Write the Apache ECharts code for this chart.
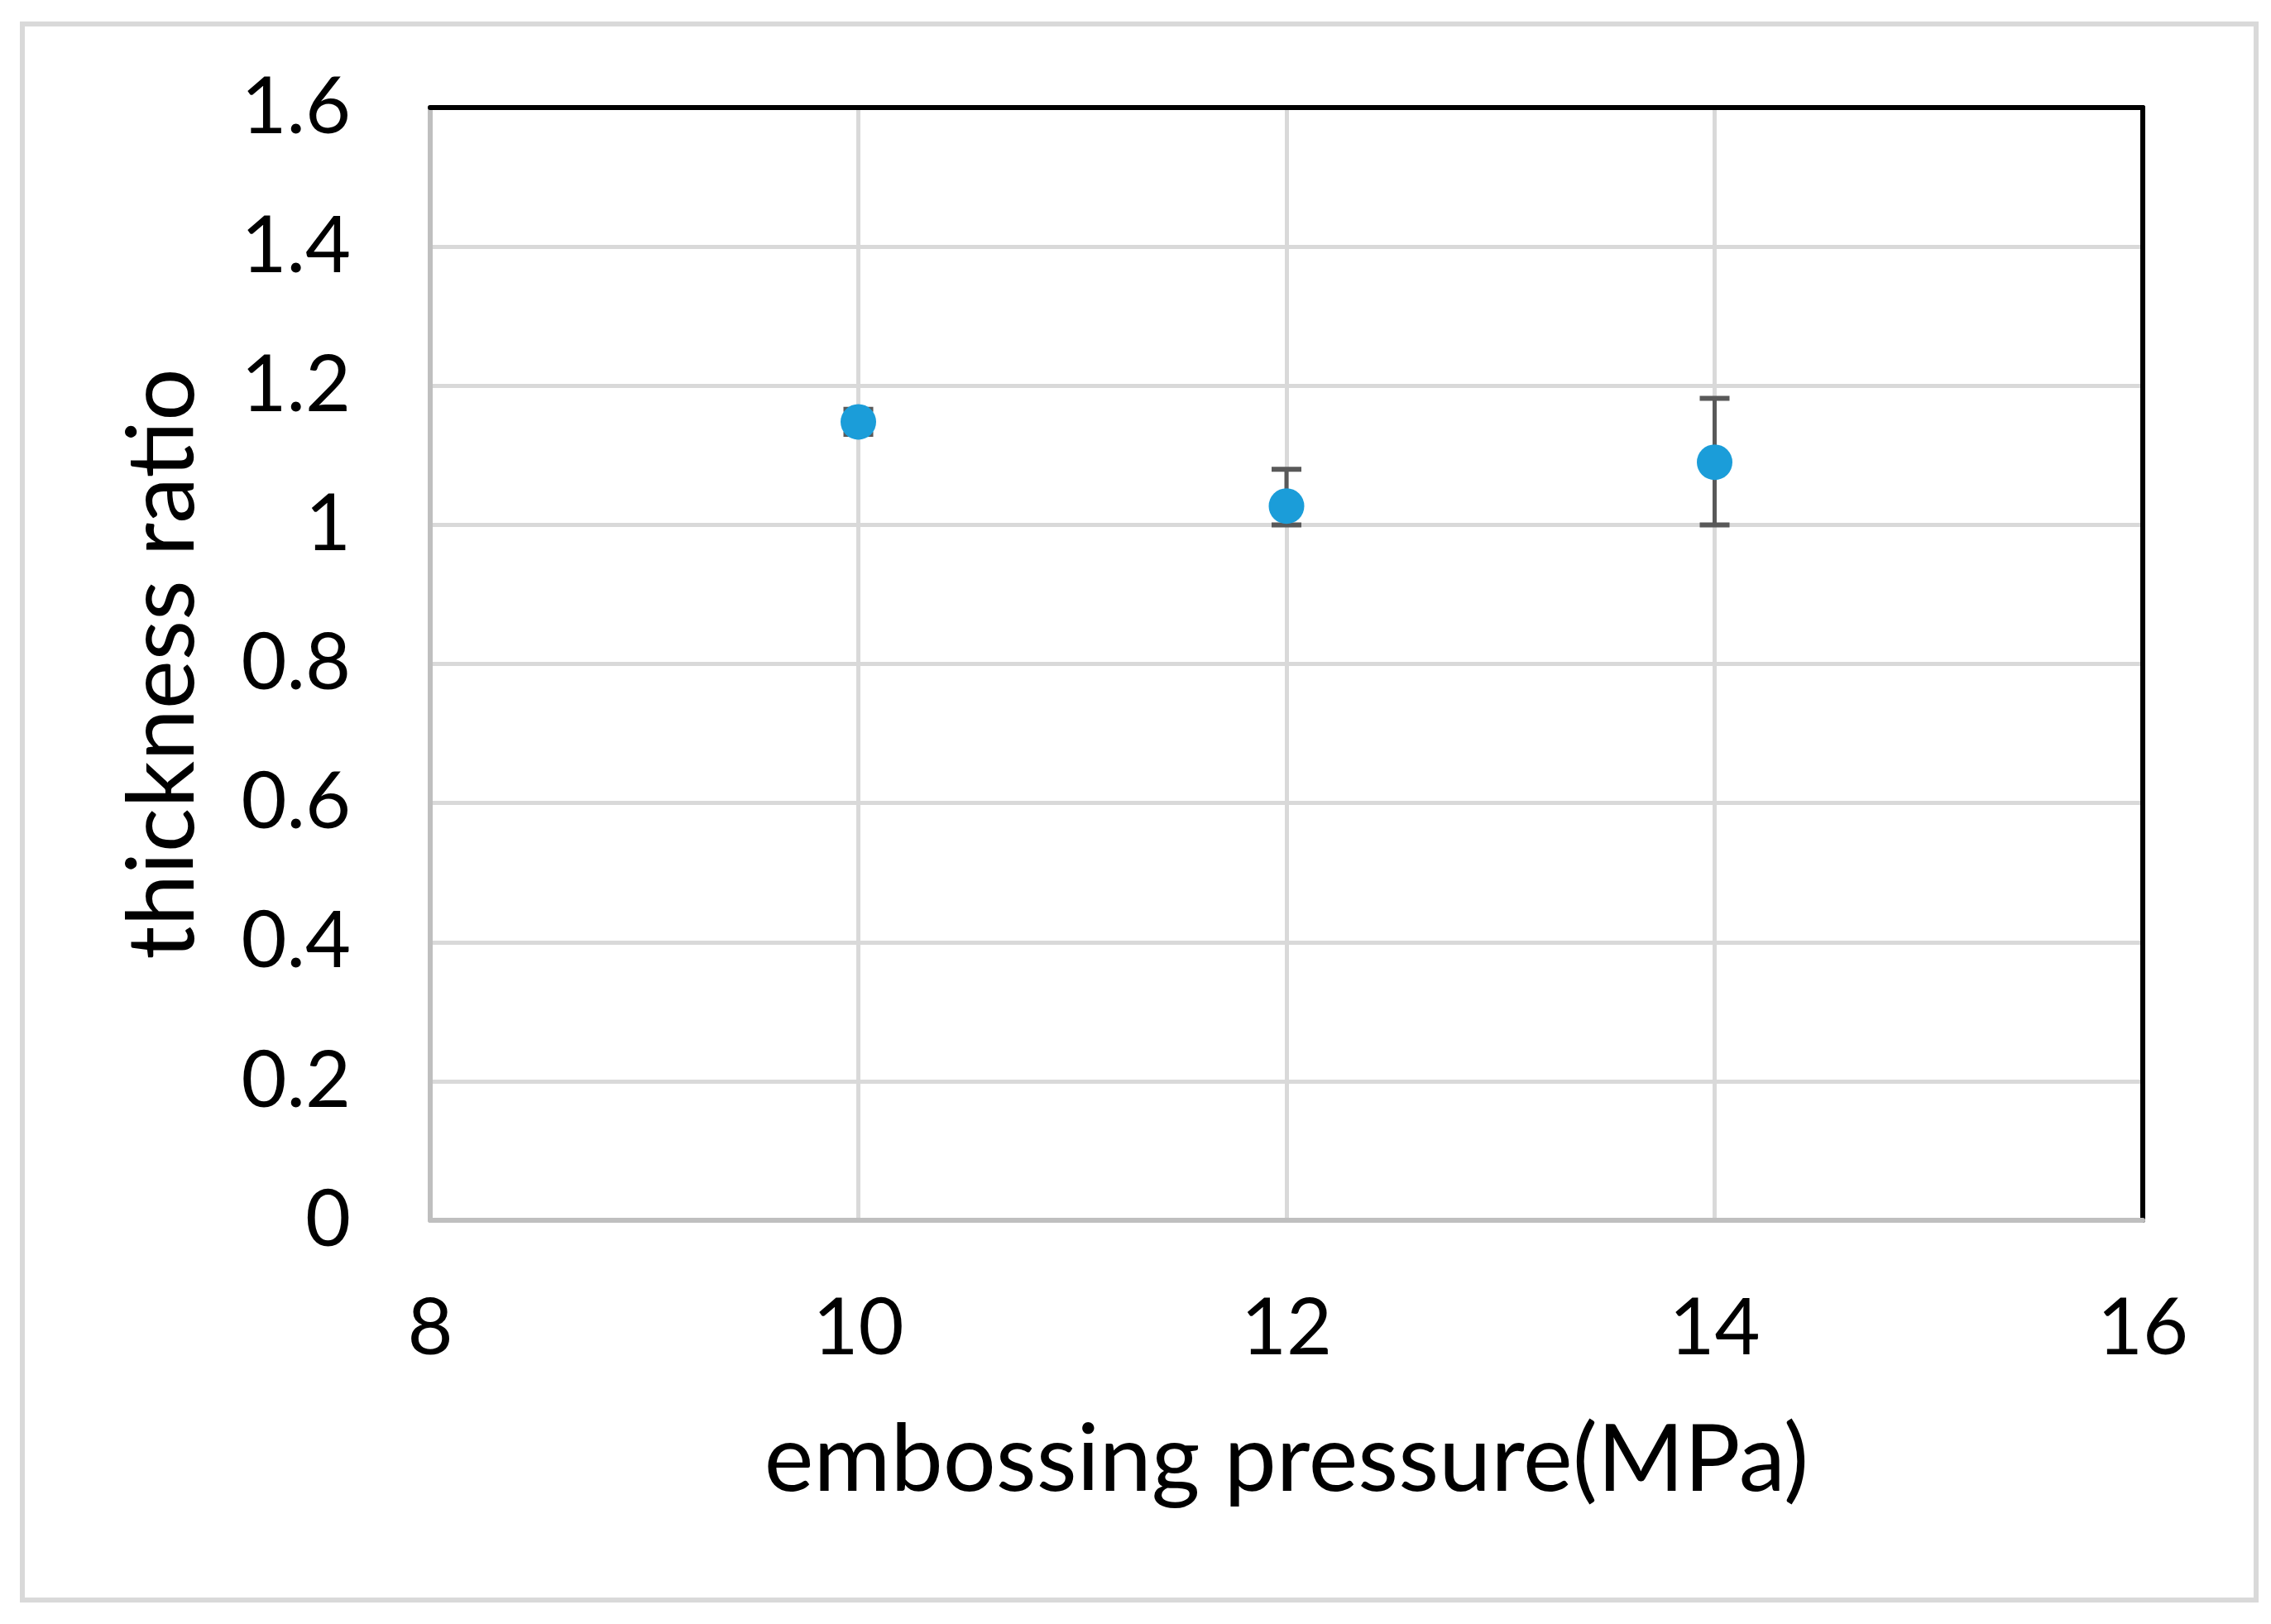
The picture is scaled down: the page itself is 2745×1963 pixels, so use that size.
<!DOCTYPE html>
<html>
<head>
<meta charset="utf-8">
<script src="https://cdn.jsdelivr.net/npm/echarts@6/dist/echarts.min.js"></script>
<style>
html,body{margin:0;padding:0;background:#fff;}
#chart{width:2745px;height:1963px;}
</style>
</head>
<body>
<div id="chart"></div>
<script>
// Data
var pressures = [10, 12, 14];
var ratios = [1.148, 1.027, 1.090];
var errLow = [1.130, 1.000, 1.000];
var errHigh = [1.166, 1.080, 1.182];
var xTicks = [8, 10, 12, 14, 16];
var yTicks = [0, 0.2, 0.4, 0.6, 0.8, 1, 1.2, 1.4, 1.6];

var FONT = 'Lato';
var chart = echarts.init(document.getElementById('chart'), null, {renderer: 'canvas'});

var points = pressures.map(function (p, i) { return [p, ratios[i]]; });
var errs = pressures.map(function (p, i) { return [p, errLow[i], errHigh[i]]; });

var option = {
  backgroundColor: '#ffffff',
  animation: false,
  graphic: [{
    type: 'rect',
    shape: {x: 27, y: 29, width: 2700, height: 1905},
    style: {fill: 'none', stroke: '#d9d9d9', lineWidth: 6},
    z: -1
  }],
  grid: {left: 520, right: 155, top: 130, bottom: 488},
  xAxis: [{
    type: 'value', min: xTicks[0], max: xTicks[xTicks.length - 1], interval: 2,
    name: 'embossing pressure(MPa)', nameLocation: 'middle', nameGap: 234,
    nameTextStyle: {fontFamily: FONT, fontSize: 113, color: '#000'},
    axisLine: {show: true, onZero: false, lineStyle: {color: '#bfbfbf', width: 6}},
    axisTick: {show: false},
    axisLabel: {fontFamily: FONT, fontSize: 95, color: '#000', margin: 84},
    splitLine: {show: true, lineStyle: {color: '#d9d9d9', width: 5}}
  }, {
    type: 'value', position: 'top', min: xTicks[0], max: xTicks[xTicks.length - 1], interval: 2,
    axisLine: {show: true, onZero: false, lineStyle: {color: '#000', width: 6}},
    axisTick: {show: false}, axisLabel: {show: false}, splitLine: {show: false}
  }],
  yAxis: [{
    type: 'value', min: yTicks[0], max: yTicks[yTicks.length - 1], interval: 0.2,
    name: 'thickness ratio', nameLocation: 'middle', nameGap: 266, nameRotate: 90,
    nameTextStyle: {fontFamily: FONT, fontSize: 112, color: '#000'},
    axisLine: {show: true, onZero: false, lineStyle: {color: '#bfbfbf', width: 6}},
    axisTick: {show: false},
    axisLabel: {fontFamily: FONT, fontSize: 95, color: '#000', margin: 96,
      formatter: function (v) { return String(Math.round(v * 10) / 10); }},
    splitLine: {show: true, lineStyle: {color: '#d9d9d9', width: 5}}
  }, {
    type: 'value', position: 'right', min: yTicks[0], max: yTicks[yTicks.length - 1], interval: 0.2,
    axisLine: {show: true, onZero: false, lineStyle: {color: '#000', width: 6}},
    axisTick: {show: false}, axisLabel: {show: false}, splitLine: {show: false}
  }],
  series: [{
    type: 'custom',
    xAxisIndex: 0, yAxisIndex: 0,
    data: errs,
    z: 3,
    renderItem: function (params, api) {
      var x = api.value(0);
      var lo = api.coord([x, api.value(1)]);
      var hi = api.coord([x, api.value(2)]);
      var hw = 18;
      var st = {stroke: '#595959', lineWidth: 5};
      return {
        type: 'group',
        children: [
          {type: 'line', shape: {x1: lo[0], y1: lo[1], x2: hi[0], y2: hi[1]}, style: st},
          {type: 'line', shape: {x1: hi[0] - hw, y1: hi[1], x2: hi[0] + hw, y2: hi[1]}, style: {stroke: '#595959', lineWidth: 6}},
          {type: 'line', shape: {x1: lo[0] - hw, y1: lo[1], x2: lo[0] + hw, y2: lo[1]}, style: {stroke: '#595959', lineWidth: 6}}
        ]
      };
    }
  }, {
    type: 'scatter',
    xAxisIndex: 0, yAxisIndex: 0,
    data: points,
    symbol: 'circle',
    symbolSize: 43,
    itemStyle: {color: '#1b9dd9', opacity: 1},
    z: 5
  }]
};
chart.setOption(option);
</script>
</body>
</html>
